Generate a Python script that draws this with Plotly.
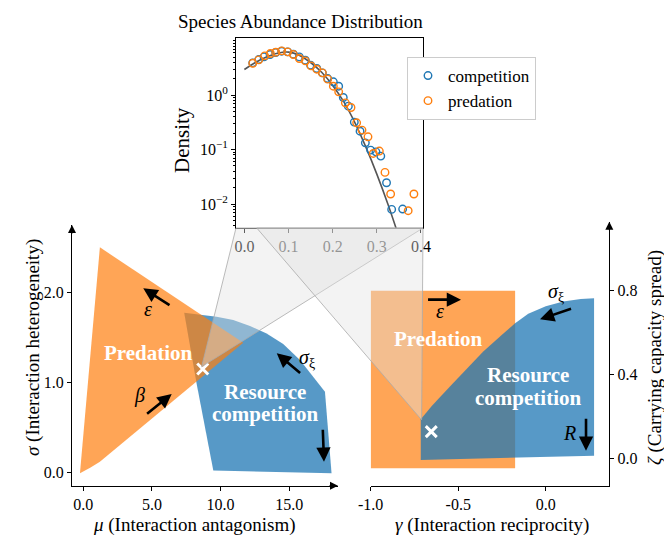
import plotly.graph_objects as go

W, H = 664, 536
FONT = "Liberation Serif"

# ---------------- data ----------------
# inset: species abundance distribution
comp_x = [0.0189, 0.0325, 0.0445, 0.0581, 0.0709, 0.0845, 0.0981, 0.111, 0.1245, 0.138, 0.150, 0.164,
          0.1766, 0.1887, 0.2015, 0.2136, 0.224, 0.2355, 0.249, 0.262, 0.274, 0.286, 0.298, 0.309,
          0.322, 0.3336, 0.3585]
comp_y = [3.92, 4.51, 5.05, 5.57, 6.07, 6.42, 6.24, 5.65, 5.05, 4.39, 3.55, 3.09,
          2.57, 2.02, 1.76, 1.46, 0.906, 0.628, 0.32, 0.218, 0.133, 0.098, 0.091, 0.076,
          0.0246, 0.00798, 0.0081]
pred_x = [0.0189, 0.0325, 0.046, 0.0589, 0.071, 0.0845, 0.098, 0.111, 0.1245, 0.138, 0.151, 0.164,
          0.1766, 0.1887, 0.2015, 0.2136, 0.2287, 0.2415, 0.2543, 0.2664, 0.280, 0.292, 0.3057,
          0.3185, 0.3313, 0.371, 0.384]
pred_y = [3.85, 4.45, 5.27, 5.82, 6.15, 6.51, 6.24, 5.57, 4.71, 4.27, 3.45, 3.0,
          2.57, 1.97, 1.46, 1.15, 0.723, 0.594, 0.311, 0.228, 0.172, 0.085, 0.094,
          0.0381, 0.0153, 0.00755, 0.0153]
theory_x = [0.0, 0.025, 0.05, 0.075, 0.1, 0.125, 0.15, 0.175, 0.2, 0.225, 0.25, 0.275, 0.3, 0.325, 0.35]
theory_y = [2.96, 3.98, 5.01, 5.89, 6.17, 5.37, 3.98, 2.63, 1.51, 0.76, 0.316, 0.112, 0.0355, 0.01, 0.0025]

# left panel: (mu, sigma) regions
pred_mu = [-0.24, 1.21, 11.65, 6.07, 1.21, 0.5, -0.24]
pred_sigma = [-0.011, 2.505, 1.443, 0.731, 0.119, 0.05, -0.011]
comp_mu = [7.35, 8.50, 9.71, 10.92, 12.14, 13.35, 14.56, 15.78, 16.75, 17.6, 18.08, 9.47, 8.25, 7.35]
comp_sigma = [1.777, 1.759, 1.733, 1.696, 1.629, 1.547, 1.429, 1.25, 1.065, 0.898, -0.011, 0.019, 0.991, 1.777]
left_marker = (8.70, 1.15)

# right panel: (gamma, zeta) regions
predR_gamma = [-1.0, -0.175, -0.175, -1.0, -1.0]
predR_zeta = [-0.048, -0.048, 0.8, 0.8, -0.048]
compR_gamma = [-0.714, -0.65, -0.55, -0.45, -0.357, -0.25, -0.175, -0.1, 0.0, 0.1, 0.2, 0.276, 0.276, -0.714, -0.714]
compR_zeta = [0.186, 0.25, 0.34, 0.43, 0.509, 0.59, 0.644, 0.69, 0.725, 0.748, 0.76, 0.764, 0.012, -0.008, 0.186]
right_marker = (-0.654, 0.127)

left_xticks = [0, 5, 10, 15]
left_xticklabels = ["0.0", "5.0", "10.0", "15.0"]
left_yticks = [0, 1, 2]
left_yticklabels = ["0.0", "1.0", "2.0"]
right_xticks = [-1.0, -0.5, 0.0]
right_xticklabels = ["-1.0", "-0.5", "0.0"]
right_yticks = [0.0, 0.4, 0.8]
right_yticklabels = ["0.0", "0.4", "0.8"]
inset_xticks = [0.0, 0.1, 0.2, 0.3, 0.4]
inset_xticklabels = ["0.0", "0.1", "0.2", "0.3", "0.4"]
inset_yticks = [0.01, 0.1, 1]
inset_yticklabels = ["10<sup>−2</sup>", "10<sup>−1</sup>", "10<sup>0</sup>"]

# ---------------- layout geometry ----------------
def px2x(p):
    return p / W

def px2y(p):
    return 1 - p / H

L_XDOM = [px2x(72), px2x(338)]
L_YDOM = [px2y(485.7), px2y(225)]
L_XR = [-0.82, 18.55]
L_YR = [-0.149, 2.754]
R_XDOM = [px2x(370.7), px2x(609.3)]
R_YDOM = [px2y(485.7), px2y(221.7)]
R_XR = [-1.0, 0.363]
R_YR = [-0.131, 1.129]
I_XDOM = [px2x(236), px2x(423)]
I_YDOM = [px2y(228), px2y(38)]
I_XR = [-0.019, 0.4046]
I_YR = [-2.44, 1.05]

ORANGE = "rgba(255,127,14,0.7)"
BLUE = "rgba(31,119,180,0.75)"

fig = go.Figure()

# left panel: blue under orange
fig.add_trace(go.Scatter(x=comp_mu, y=comp_sigma, fill="toself", fillcolor=BLUE, mode="lines",
                         line=dict(width=0), xaxis="x", yaxis="y", showlegend=False, hoverinfo="skip"))
fig.add_trace(go.Scatter(x=pred_mu, y=pred_sigma, fill="toself", fillcolor=ORANGE, mode="lines",
                         line=dict(width=0), xaxis="x", yaxis="y", showlegend=False, hoverinfo="skip"))
# right panel: orange under blue
fig.add_trace(go.Scatter(x=predR_gamma, y=predR_zeta, fill="toself", fillcolor=ORANGE, mode="lines",
                         line=dict(width=0), xaxis="x2", yaxis="y2", showlegend=False, hoverinfo="skip"))
fig.add_trace(go.Scatter(x=compR_gamma, y=compR_zeta, fill="toself", fillcolor=BLUE, mode="lines",
                         line=dict(width=0), xaxis="x2", yaxis="y2", showlegend=False, hoverinfo="skip"))

# X markers
for (mx, my), xa, ya in [(left_marker, "x", "y"), (right_marker, "x2", "y2")]:
    fig.add_trace(go.Scatter(x=[mx], y=[my], mode="markers", xaxis=xa, yaxis=ya, showlegend=False,
                             marker=dict(symbol="x-thin", size=11, line=dict(width=3, color="white"))))

# inset
fig.add_trace(go.Scatter(x=theory_x, y=theory_y, mode="lines", line=dict(color="#555555", width=1.6, shape="spline"),
                         xaxis="x3", yaxis="y3", showlegend=False, hoverinfo="skip"))
fig.add_trace(go.Scatter(x=comp_x, y=comp_y, mode="markers", name="competition", xaxis="x3", yaxis="y3",
                         marker=dict(symbol="circle-open", size=7.5, color="#1f77b4", line=dict(width=1.4))))
fig.add_trace(go.Scatter(x=pred_x, y=pred_y, mode="markers", name="predation", xaxis="x3", yaxis="y3",
                         marker=dict(symbol="circle-open", size=7.5, color="#ff7f0e", line=dict(width=1.4))))

tickfont = dict(family=FONT, size=16, color="black")
common = dict(showgrid=False, zeroline=False, showline=True, linecolor="black", linewidth=1,
              ticks="outside", ticklen=4, tickcolor="black", tickfont=tickfont, automargin=False)

fig.update_layout(
    width=W, height=H, margin=dict(l=0, r=0, t=0, b=0, autoexpand=False),
    paper_bgcolor="white", plot_bgcolor="rgba(0,0,0,0)",
    xaxis=dict(domain=L_XDOM, range=L_XR, anchor="y", tickvals=left_xticks, ticktext=left_xticklabels, **common),
    yaxis=dict(domain=L_YDOM, range=L_YR, anchor="x", tickvals=left_yticks, ticktext=left_yticklabels, **common),
    xaxis2=dict(domain=R_XDOM, range=R_XR, anchor="y2", tickvals=right_xticks, ticktext=right_xticklabels, **common),
    yaxis2=dict(domain=R_YDOM, range=R_YR, anchor="x2", side="right", tickvals=right_yticks,
                ticktext=right_yticklabels, **common),
    xaxis3=dict(domain=I_XDOM, range=I_XR, anchor="y3", tickvals=inset_xticks, ticktext=inset_xticklabels,
                mirror=True, **common),
    yaxis3=dict(domain=I_YDOM, range=I_YR, anchor="x3", type="log", tickvals=inset_yticks,
                ticktext=inset_yticklabels, mirror=True,
                minor=dict(ticks="outside", ticklen=2, tickcolor="black", dtick="D1"),
                **common),
    legend=dict(x=px2x(407), y=px2y(57), xanchor="left", yanchor="top", bgcolor="white",
                bordercolor="#cccccc", borderwidth=1, font=dict(family=FONT, size=17, color="black"),
                itemwidth=30, tracegroupgap=0),
)

# inset white background
fig.add_shape(type="rect", xref="paper", yref="paper", x0=I_XDOM[0], x1=I_XDOM[1], y0=I_YDOM[0], y1=I_YDOM[1],
              fillcolor="white", line=dict(width=0), layer="below")

# connectors
def lp(x, y):
    return (L_XDOM[0] + (x - L_XR[0]) / (L_XR[1] - L_XR[0]) * (L_XDOM[1] - L_XDOM[0]),
            L_YDOM[0] + (y - L_YR[0]) / (L_YR[1] - L_YR[0]) * (L_YDOM[1] - L_YDOM[0]))

def rp(x, y):
    return (R_XDOM[0] + (x - R_XR[0]) / (R_XR[1] - R_XR[0]) * (R_XDOM[1] - R_XDOM[0]),
            R_YDOM[0] + (y - R_YR[0]) / (R_YR[1] - R_YR[0]) * (R_YDOM[1] - R_YDOM[0]))

def ip(x):
    return I_XDOM[0] + (x - I_XR[0]) / (I_XR[1] - I_XR[0]) * (I_XDOM[1] - I_XDOM[0])

left_apex = lp(8.62, 1.176)
right_apex = rp(-0.709, 0.183)
tris = [
    [(ip(I_XR[0]), I_YDOM[0]), (ip(I_XR[1]), I_YDOM[0]), left_apex],
    [(ip(0.028), I_YDOM[0]), (ip(I_XR[1]), I_YDOM[0]), right_apex],
]
for tri in tris:
    path = "M " + " L ".join(f"{a:.5f},{b:.5f}" for a, b in tri) + " Z"
    fig.add_shape(type="path", xref="paper", yref="paper", path=path, layer="above",
                  fillcolor="rgba(226,226,226,0.41)", line=dict(color="rgba(170,170,170,0.8)", width=1))

# spine arrows
def spine_arrow(x, y, ax, ay):
    fig.add_annotation(x=x, y=y, xref="paper", yref="paper", ax=ax, ay=ay, text="", showarrow=True,
                       arrowhead=2, arrowsize=1.6, arrowwidth=1, arrowcolor="black", standoff=0)

spine_arrow(L_XDOM[0], L_YDOM[1], 0, 10)
spine_arrow(L_XDOM[1], L_YDOM[0], -10, 0)
spine_arrow(R_XDOM[1], R_YDOM[1], 0, 10)

# black arrows in panels
def darrow(x0, y0, x1, y1, xa, ya):
    fig.add_annotation(x=x1, y=y1, ax=x0, ay=y0, xref=xa, yref=ya, axref=xa, ayref=ya, text="",
                       showarrow=True, arrowhead=2, arrowsize=1.1, arrowwidth=2.6, arrowcolor="black", standoff=0)

darrow(6.39, 1.852, 4.37, 2.049, "x", "y")
darrow(4.54, 0.638, 6.44, 0.872, "x", "y")
darrow(15.9, 1.091, 14.09, 1.325, "x", "y")
darrow(17.44, 0.49, 17.53, 0.118, "x", "y")
darrow(-0.681, 0.757, -0.484, 0.757, "x2", "y2")
darrow(0.153, 0.716, -0.033, 0.663, "x2", "y2")
darrow(0.230, 0.196, 0.230, 0.036, "x2", "y2")

def label(x, y, text, xa, ya, size=20, color="black", bold=False):
    t = f"<b>{text}</b>" if bold else text
    fig.add_annotation(x=x, y=y, xref=xa, yref=ya, text=t, showarrow=False, xanchor="center", yanchor="middle",
                       font=dict(family=FONT, size=size, color=color))

label(4.73, 1.815, "<i>ε</i>", "x", "y")
label(4.13, 0.853, "<i>β</i>", "x", "y")
label(16.3, 1.27, "<i>σ</i><sub>ξ</sub>", "x", "y")
label(18.94, 0.285, "<i>R</i>", "x", "y")
label(-0.604, 0.705, "<i>ε</i>", "x2", "y2")
label(0.06, 0.79, "<i>σ</i><sub>ξ</sub>", "x2", "y2")
label(0.135, 0.119, "<i>R</i>", "x2", "y2")

label(4.73, 1.33, "Predation", "x", "y", size=21, color="white", bold=True)
label(13.23, 0.898, "Resource", "x", "y", size=21, color="white", bold=True)
label(13.23, 0.646, "competition", "x", "y", size=21, color="white", bold=True)
label(-0.61, 0.57, "Predation", "x2", "y2", size=21, color="white", bold=True)
label(-0.1, 0.398, "Resource", "x2", "y2", size=21, color="white", bold=True)
label(-0.1, 0.287, "competition", "x2", "y2", size=21, color="white", bold=True)

# axis titles and inset title
def ptext(px, py, text, size=19, angle=0):
    fig.add_annotation(x=px2x(px), y=px2y(py), xref="paper", yref="paper", text=text, showarrow=False,
                       xanchor="center", yanchor="middle", textangle=angle,
                       font=dict(family=FONT, size=size, color="black"))

ptext(300, 22, "Species Abundance Distribution", size=19)
ptext(182, 140, "Density", size=21, angle=-90)
ptext(194, 524.5, "<i>μ</i> (Interaction antagonism)", size=19)
ptext(491.7, 524.5, "<i>γ</i> (Interaction reciprocity)", size=19)
ptext(33, 348, "<i>σ</i> (Interaction heterogeneity)", size=19, angle=-90)
ptext(655, 358, "<i>ζ</i> (Carrying capacity spread)", size=19, angle=-90)

fig.write_html("out.html")
